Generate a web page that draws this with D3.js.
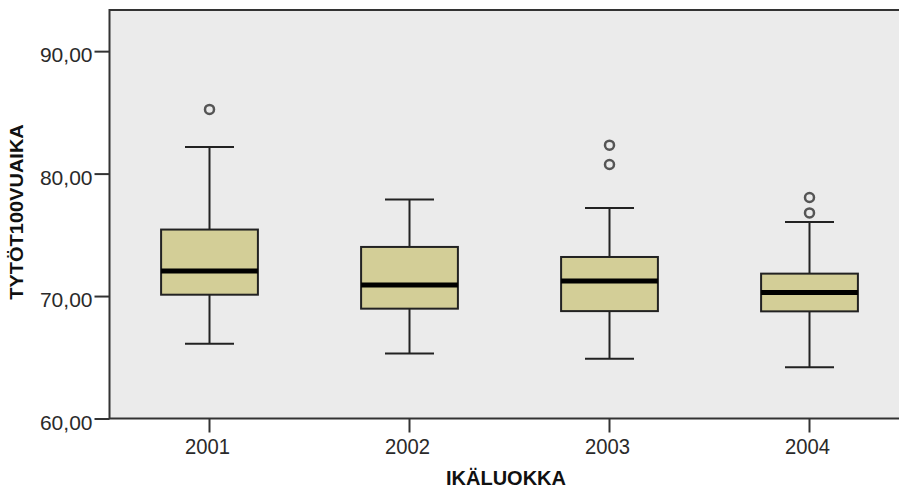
<!DOCTYPE html>
<html>
<head>
<meta charset="utf-8">
<script src="https://cdn.jsdelivr.net/npm/d3@7"></script>
<style>
  html, body { margin: 0; padding: 0; background: #ffffff; }
  svg { display: block; }
  text { font-family: "Liberation Sans", Arial, sans-serif; }
</style>
</head>
<body>
<svg id="chart" width="899" height="490"></svg>
<script>
// ---- data ----
const categories   = ["2001", "2002", "2003", "2004"];
const whiskerLow   = [66.11, 65.31, 64.88, 64.19];
const q1           = [70.11, 68.97, 68.77, 68.75];
const median       = [72.04, 70.90, 71.23, 70.28];
const q3           = [75.43, 74.01, 73.19, 71.83];
const whiskerHigh  = [82.18, 77.88, 77.20, 76.05];
const outliers     = [[85.24], [], [82.32, 80.74], [78.05, 76.79]];
const yTickValues  = [60, 70, 80, 90];
const xTitle = "IKÄLUOKKA";
const yTitle = "TYTÖT100VUAIKA";

// ---- layout ----
const svg = d3.select("#chart");
const plot = { left: 109.5, right: 909.5, top: 10, bottom: 418.5 };

const x = d3.scaleBand().domain(categories).range([plot.left, plot.right]).padding(0);
const y = d3.scaleLinear().domain([60, 93.36]).range([plot.bottom, plot.top]);

const fi = d3.formatLocale({ decimal: ",", thousands: " ", grouping: [3], currency: ["", "€"] });
const fmt = fi.format(".2f");

// plot background
svg.append("rect")
  .attr("x", plot.left).attr("y", plot.top)
  .attr("width", plot.right - plot.left).attr("height", plot.bottom - plot.top)
  .attr("fill", "#ebebeb");

// boxes
const rows = categories.map((c, i) => ({
  c, lo: whiskerLow[i], q1: q1[i], med: median[i], q3: q3[i], hi: whiskerHigh[i], out: outliers[i]
}));

const boxW = x.bandwidth() * 0.484;
const capW = x.bandwidth() * 0.245;

const g = svg.append("g");
rows.forEach(d => {
  const cx = x(d.c) + x.bandwidth() / 2;
  const gg = g.append("g");
  // whiskers
  gg.append("line").attr("x1", cx).attr("x2", cx).attr("y1", y(d.hi)).attr("y2", y(d.q3))
    .attr("stroke", "#222").attr("stroke-width", 2);
  gg.append("line").attr("x1", cx).attr("x2", cx).attr("y1", y(d.q1)).attr("y2", y(d.lo))
    .attr("stroke", "#222").attr("stroke-width", 2);
  gg.append("line").attr("x1", cx - capW / 2).attr("x2", cx + capW / 2).attr("y1", y(d.hi)).attr("y2", y(d.hi))
    .attr("stroke", "#222").attr("stroke-width", 2);
  gg.append("line").attr("x1", cx - capW / 2).attr("x2", cx + capW / 2).attr("y1", y(d.lo)).attr("y2", y(d.lo))
    .attr("stroke", "#222").attr("stroke-width", 2);
  // box
  gg.append("rect").attr("x", cx - boxW / 2).attr("width", boxW)
    .attr("y", y(d.q3)).attr("height", y(d.q1) - y(d.q3))
    .attr("fill", "#d3ce97").attr("stroke", "#222").attr("stroke-width", 2);
  // median
  gg.append("line").attr("x1", cx - boxW / 2).attr("x2", cx + boxW / 2).attr("y1", y(d.med)).attr("y2", y(d.med))
    .attr("stroke", "#000").attr("stroke-width", 5);
  // outliers
  d.out.forEach(v => {
    gg.append("circle").attr("cx", cx).attr("cy", y(v)).attr("r", 4.5)
      .attr("fill", "none").attr("stroke", "#555").attr("stroke-width", 2.5);
  });
});

// frame
svg.append("rect")
  .attr("x", plot.left).attr("y", plot.top)
  .attr("width", plot.right - plot.left).attr("height", plot.bottom - plot.top)
  .attr("fill", "none").attr("stroke", "#333").attr("stroke-width", 2);

// y axis
const yAxis = svg.append("g").attr("transform", `translate(${plot.left},0)`)
  .call(d3.axisLeft(y).tickValues(yTickValues).tickFormat(fmt).tickSize(15).tickSizeOuter(0).tickPadding(2));
yAxis.select(".domain").remove();
yAxis.selectAll(".tick line").attr("stroke", "#333").attr("stroke-width", 2);
yAxis.selectAll(".tick text").attr("font-size", 21).attr("fill", "#2a2a2a")
  .attr("font-family", "'Liberation Sans', Arial, sans-serif").attr("dy", "0.5em");

// x axis
const xAxis = svg.append("g").attr("transform", `translate(0,${plot.bottom})`)
  .call(d3.axisBottom(x).tickSize(14).tickSizeOuter(0));
xAxis.select(".domain").remove();
xAxis.selectAll(".tick line").attr("stroke", "#333").attr("stroke-width", 2);
xAxis.selectAll(".tick text").attr("font-size", 22).attr("fill", "#2a2a2a")
  .attr("font-family", "'Liberation Sans', Arial, sans-serif")
  .attr("y", 0).attr("dy", 0)
  .attr("transform", "translate(-2,35) scale(0.92,1)");

// titles
svg.append("text")
  .attr("x", 506).attr("y", 485)
  .attr("text-anchor", "middle")
  .attr("font-size", 20).attr("font-weight", "bold").attr("fill", "#111")
  .text(xTitle);

svg.append("text")
  .attr("transform", "translate(23,212) rotate(-90) scale(1,0.95)")
  .attr("text-anchor", "middle")
  .attr("font-size", 20).attr("font-weight", "bold").attr("fill", "#111")
  .text(yTitle);
</script>
</body>
</html>
